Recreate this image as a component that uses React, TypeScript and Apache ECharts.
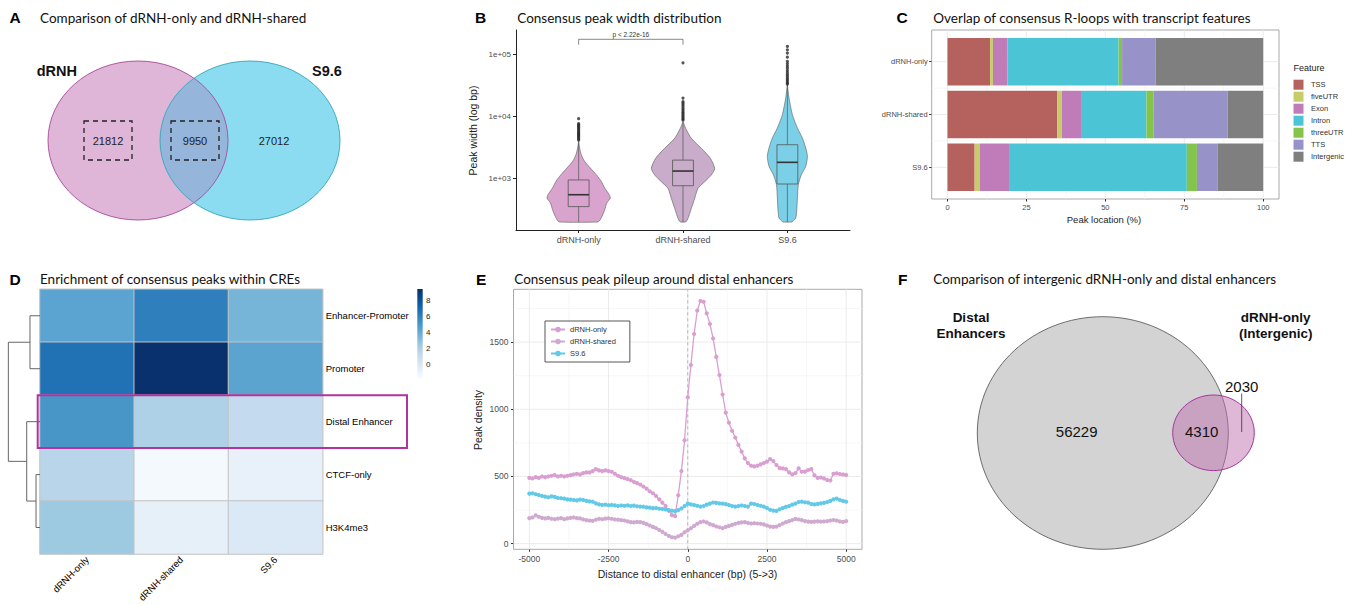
import React, { useEffect, useRef } from "react";
import * as echarts from "echarts";

// ---------------- Panel A : Venn of peak sets ----------------
const vennASets = ["dRNH", "S9.6"];
const vennACounts = [21812, 9950, 27012]; // dRNH only, shared, S9.6 only

// ---------------- Panel B : peak width distribution ----------------
const widthGroups = ["dRNH-only", "dRNH-shared", "S9.6"];
const widthTicks = [1000, 10000, 100000];
// violin outline: [peak width (bp), half width (category units)]
const violinDrnhOnly = [[4010, 0], [3126, 0.01], [2438, 0.026], [1905, 0.057], [1489, 0.112], [1161, 0.169], [908, 0.217], [708, 0.25], [552, 0.294], [489, 0.303], [406, 0.27], [316, 0.25], [247, 0.224], [210, 0.2], [200, 0.18]];
const violinDrnhShared = [[8318, 0], [6486, 0.026], [4477, 0.08], [3090, 0.176], [2133, 0.262], [1469, 0.303], [1148, 0.271], [895, 0.208], [700, 0.144], [482, 0.112], [333, 0.08], [230, 0.048], [203, 0.03], [200, 0.02]];
const violinS96 = [[32900, 0], [20000, 0.016], [10800, 0.048], [6577, 0.096], [4529, 0.144], [3126, 0.176], [2296, 0.192], [1585, 0.176], [1161, 0.134], [802, 0.105], [489, 0.096], [298, 0.089], [232, 0.08], [205, 0.05], [200, 0.04]];
// box stats: [lower whisker, Q1, median, Q3, upper whisker]
const boxDrnhOnly = [200, 355, 552, 955, 4010];
const boxDrnhShared = [200, 771, 1330, 1995, 8318];
const boxS96 = [200, 822, 1837, 3532, 32900];
const outDrnhOnly = [9300, 7700, 7400, 7100, 6800, 6500, 6200, 5900, 5600, 5400, 5200, 5000, 4800, 4600, 4400, 4200];
const outDrnhShared = [74000, 20000, 17500, 16500, 15500, 14500, 13500, 12800, 12000, 11400, 10800, 10200, 9700, 9200, 8800];
const outS96 = [136000, 120000, 106000, 91000, 78000, 72000, 66000, 61000, 56000, 52000, 48000, 45000, 42000, 39500, 37000, 35000, 33500];
const pBracket = [1, 2, 177000, 145000];
const pLabel = "p < 2.22e-16";

// ---------------- Panel C : transcript feature overlap ----------------
const overlapGroups = ["dRNH-only", "dRNH-shared", "S9.6"];
const features = ["TSS", "fiveUTR", "Exon", "Intron", "threeUTR", "TTS", "Intergenic"];
const featureColors = ["#b5625f", "#c7cc6b", "#bf7cb8", "#4bc4d5", "#85c44b", "#9793c8", "#7f7f7f"];
const pctDrnhOnly = [13.5, 0.9, 4.6, 35.2, 1.1, 10.6, 34.1];
const pctDrnhShared = [34.7, 1.5, 6.1, 20.7, 2.2, 23.5, 11.3];
const pctS96 = [8.6, 1.6, 9.3, 56.3, 3.2, 6.5, 14.5];
const pctTicks = [0, 25, 50, 75, 100];

// ---------------- Panel D : enrichment heatmap ----------------
const creRows = ["Enhancer-Promoter", "Promoter", "Distal Enhancer", "CTCF-only", "H3K4me3"];
const creCols = ["dRNH-only", "dRNH-shared", "S9.6"];
const enrichDrnhOnly = [4.45, 6.7, 5.1, 1.6, 2.5];
const enrichDrnhShared = [6.1, 9.4, 1.95, -1.5, -0.7];
const enrichS96 = [3.6, 4.4, 1.2, -0.8, -0.1];
const colorbarTicks = [0, 2, 4, 6, 8];
// dendrogram merges: [childA, childB, height]; leaves 0..4, internal nodes 5..
const creDendro = [[0, 1, 0.73], [3, 4, 0.29], [2, 6, 0.97], [5, 7, 2.31]];

// ---------------- Panel E : pileup around distal enhancers ----------------
const pileupBins = Array.from({ length: 101 }, (_, i) => -5000 + 100 * i);
const pileupDrnhOnly = [
  490, 485, 495, 490, 500, 495, 500, 505, 510, 500,
  505, 500, 505, 510, 515, 520, 515, 525, 530, 530,
  540, 555, 545, 540, 545, 540, 535, 520, 505, 495,
  488, 480, 472, 460, 450, 440, 425, 410, 390, 375,
  355, 330, 305, 280, 245, 212, 205, 360, 540, 770,
  1090, 1330, 1560, 1735, 1806, 1800, 1714, 1635, 1527, 1390,
  1255, 1110, 975, 900, 840, 790, 735, 685, 635, 600,
  580, 575, 580, 590, 600, 610, 630, 615, 585, 562,
  560, 555, 530, 516, 525, 560, 535, 536, 548, 555,
  508, 490, 492, 485, 474, 470, 520, 523, 518, 515,
  511];
const pileupDrnhShared = [
  190, 195, 210, 200, 192, 188, 192, 185, 182, 186,
  190, 182, 188, 192, 195, 190, 188, 180, 175, 172,
  170, 178, 185, 182, 186, 189, 185, 180, 178, 175,
  172, 166, 160, 158, 162, 160, 155, 145, 135, 125,
  115, 102, 88, 72, 58, 48, 45, 55, 65, 85,
  100, 115, 132, 148, 160, 165, 158, 145, 138, 128,
  122, 115, 125, 132, 140, 148, 155, 158, 160, 155,
  150, 152, 150, 148, 144, 135, 127, 125, 127, 138,
  150, 160, 168, 176, 184, 180, 175, 168, 164, 162,
  164, 166, 164, 165, 168, 172, 176, 172, 165, 162,
  168];
const pileupS96 = [
  372, 375, 368, 362, 355, 350, 345, 352, 348, 340,
  338, 335, 330, 328, 325, 322, 328, 325, 318, 315,
  312, 300, 292, 288, 290, 286, 288, 285, 280, 284,
  282, 285, 280, 283, 278, 276, 275, 270, 268, 264,
  265, 260, 258, 255, 250, 245, 242, 250, 262, 280,
  298, 292, 288, 282, 276, 280, 290, 298, 306, 304,
  300, 298, 294, 288, 280, 276, 280, 284, 280, 276,
  298, 295, 288, 282, 276, 265, 252, 246, 244, 256,
  265, 274, 280, 290, 298, 310, 312, 308, 305, 295,
  292, 296, 300, 304, 310, 318, 330, 335, 325, 318,
  312];
const pileupXTicks = [-5000, -2500, 0, 2500, 5000];
const pileupXMinor = [-3750, -1250, 1250, 3750];
const pileupYTicks = [0, 500, 1000, 1500];
const pileupYMinor = [250, 750, 1250, 1750];

// ---------------- Panel F : Venn distal enhancers ----------------
const vennFSets = ["Distal\nEnhancers", "dRNH-only\n(Intergenic)"];
const vennFCounts = [56229, 4310, 2030];

// =====================================================================
const AX = "Liberation Sans, Arial, sans-serif";
const TF = "Lato, Noto Sans, sans-serif";
const BLUES = ["#f7fbff", "#deebf7", "#c6dbef", "#9ecae1", "#6baed6", "#4292c6", "#2171b5", "#08519c", "#08306b"];
const ENR_MIN = -1.66, ENR_MAX = 9.46;

let shapesReady = false;
function lensPath(cx1: number, cx2: number, cy: number, rx: number, ry: number) {
  const mx = (cx1 + cx2) / 2;
  const t = (mx - cx1) / rx;
  const dy = ry * Math.sqrt(1 - t * t);
  const y1 = cy - dy, y2 = cy + dy;
  return `M${mx} ${y1} A${rx} ${ry} 0 0 1 ${mx} ${y2} A${rx} ${ry} 0 0 1 ${mx} ${y1} Z`;
}
function ensureShapes() {
  if (shapesReady) return;
  shapesReady = true;
  echarts.graphic.registerShape("lensA", echarts.graphic.extendPath(lensPath(138, 250, 140.5, 90, 79.5), {}) as any);
}

function T(text: string, x: number, y: number, font: string, o: any = {}) {
  return {
    type: "text", x, y, rotation: o.rotation || 0, z: o.z ?? 20, silent: true,
    style: { text, font, fill: o.fill || "#111", align: o.align || "left", verticalAlign: o.va || "middle", lineHeight: o.lineHeight },
  };
}

function buildOption() {
  const violins = [violinDrnhOnly, violinDrnhShared, violinS96];
  const boxes = [boxDrnhOnly, boxDrnhShared, boxS96];
  const outs = [outDrnhOnly, outDrnhShared, outS96];
  const violinColors = ["#d8a3cd", "#c9abca", "#7bd0e8"];

  const gB = { left: 516, top: 30, width: 334, height: 200 };
  const gC = { left: 931.7, top: 30, width: 347.3, height: 169, show: true, borderColor: "#a9a9a9", borderWidth: 1 };
  const gD = { left: 40, top: 289.3, width: 282.7, height: 264.7 };
  const gE = { left: 513.5, top: 289.3, width: 348.5, height: 260, show: true, borderColor: "#a9a9a9", borderWidth: 1 };
  const XE: [number, number] = [-5500, 5500];
  const YE: [number, number] = [-42, 1893];
  const XC: [number, number] = [-5, 105];
  const YC: [number, number] = [0.4, 3.6];

  const gridRender = (xr: [number, number], yr: [number, number]) => (p: any, api: any) => {
    const o = api.value(0), v = api.value(1), k = api.value(2);
    const a = o === 0 ? api.coord([v, yr[0]]) : api.coord([xr[0], v]);
    const b = o === 0 ? api.coord([v, yr[1]]) : api.coord([xr[1], v]);
    return {
      type: "line", shape: { x1: a[0], y1: a[1], x2: b[0], y2: b[1] },
      style: { stroke: k === 2 ? "#9c9c9c" : k === 0 ? "#ebebeb" : "#f3f3f3", lineWidth: k === 0 ? 1 : 0.7, lineDash: k === 2 ? [3, 3] : null },
    };
  };

  const gridDataE = [
    ...pileupXMinor.map((v) => [0, v, 1]), ...pileupYMinor.map((v) => [1, v, 1]),
    ...pileupXTicks.map((v) => [0, v, 0]), ...pileupYTicks.map((v) => [1, v, 0]),
    [0, 0, 2],
  ];
  const gridDataC = [
    ...[12.5, 37.5, 62.5, 87.5].map((v) => [0, v, 1]), ...[1.5, 2.5].map((v) => [1, v, 1]),
    ...pctTicks.map((v) => [0, v, 0]), ...[1, 2, 3].map((v) => [1, v, 0]),
  ];

  const barData: number[][] = [];
  [pctDrnhOnly, pctDrnhShared, pctS96].forEach((row, g) => {
    let acc = 0;
    row.forEach((v, f) => { barData.push([acc, acc + v, g + 1, f]); acc += v; });
  });

  const heatData: number[][] = [];
  [enrichDrnhOnly, enrichDrnhShared, enrichS96].forEach((col, c) => col.forEach((v, r) => heatData.push([c, r, v])));

  const outlierData: number[][] = [];
  outs.forEach((arr, g) => arr.forEach((v) => outlierData.push([g + 1, v])));

  const axText = { fontFamily: AX };
  const plain = (v: number) => String(v);

  const xAxis: any[] = [
    { gridIndex: 0, type: "value", min: 0.4, max: 3.6, axisLine: { show: true, onZero: false, lineStyle: { color: "#222", width: 1 } },
      axisTick: { customValues: [1, 2, 3], length: 3, lineStyle: { color: "#222" } },
      axisLabel: { customValues: [1, 2, 3], formatter: (v: number) => widthGroups[Math.round(v) - 1], color: "#4d4d4d", fontSize: 9, margin: 5, ...axText },
      splitLine: { show: false } },
    { gridIndex: 1, type: "value", min: XC[0], max: XC[1], axisLine: { show: false, onZero: false },
      axisTick: { customValues: pctTicks, length: 2.5, lineStyle: { color: "#333" } },
      axisLabel: { customValues: pctTicks, formatter: plain, color: "#4d4d4d", fontSize: 7.5, margin: 4, ...axText }, splitLine: { show: false } },
    { gridIndex: 2, type: "category", data: creCols, axisLine: { show: false }, axisTick: { show: false },
      axisLabel: { rotate: 45, color: "#000", fontSize: 9.5, margin: 4, ...axText }, splitLine: { show: false } },
    { gridIndex: 3, type: "value", min: XE[0], max: XE[1], axisLine: { show: false, onZero: false },
      axisTick: { customValues: pileupXTicks, length: 2.5, lineStyle: { color: "#333" } },
      axisLabel: { customValues: pileupXTicks, formatter: plain, color: "#4d4d4d", fontSize: 8.5, margin: 5, ...axText }, splitLine: { show: false } },
  ];
  const yAxis: any[] = [
    { gridIndex: 0, type: "log", logBase: 10, min: 149, max: 250000, axisLine: { show: true, onZero: false, lineStyle: { color: "#222", width: 1 } },
      axisTick: { customValues: widthTicks, length: 3, lineStyle: { color: "#222" } },
      axisLabel: { customValues: widthTicks, formatter: (v: number) => "1e+" + String(Math.round(Math.log10(v))).padStart(2, "0"), color: "#4d4d4d", fontSize: 8, margin: 5, ...axText },
      splitLine: { show: false }, minorTick: { show: false } },
    { gridIndex: 1, type: "value", min: YC[0], max: YC[1], inverse: true, axisLine: { show: false, onZero: false },
      axisTick: { customValues: [1, 2, 3], length: 2.5, lineStyle: { color: "#333" } },
      axisLabel: { customValues: [1, 2, 3], formatter: (v: number) => overlapGroups[Math.round(v) - 1], color: "#4d4d4d", fontSize: 7.5, margin: 4, ...axText },
      splitLine: { show: false } },
    { gridIndex: 2, type: "category", data: creRows, inverse: true, position: "right", axisLine: { show: false }, axisTick: { show: false },
      axisLabel: { color: "#000", fontSize: 9.5, margin: 3, ...axText }, splitLine: { show: false } },
    { gridIndex: 3, type: "value", min: YE[0], max: YE[1], axisLine: { show: false, onZero: false },
      axisTick: { customValues: pileupYTicks, length: 2.5, lineStyle: { color: "#333" } },
      axisLabel: { customValues: pileupYTicks, formatter: plain, color: "#4d4d4d", fontSize: 8.5, margin: 5, ...axText }, splitLine: { show: false } },
  ];

  const pileColors = ["#d89fd0", "#cfaacf", "#62c9e6"];
  const pileNames = ["dRNH-only", "dRNH-shared", "S9.6"];
  const pileSeries = [pileupDrnhOnly, pileupDrnhShared, pileupS96].map((arr, i) => ({
    type: "line", name: pileNames[i], xAxisIndex: 3, yAxisIndex: 3, z: 3 + i,
    data: pileupBins.map((b, j) => [b, arr[j]]),
    symbol: "circle", symbolSize: 4.2, showSymbol: true,
    lineStyle: { color: pileColors[i], width: 1.3 }, itemStyle: { color: pileColors[i] },
    emphasis: { disabled: true },
  }));

  const series: any[] = [
    { type: "custom", name: "violins", xAxisIndex: 0, yAxisIndex: 0, z: 2,
      data: widthGroups.map((_, i) => [i + 1, boxes[i][2], i]),
      renderItem: (p: any, api: any) => {
        const g = api.value(2);
        const prof = violins[g];
        const xc = g + 1;
        const right = prof.map(([v, hw]) => api.coord([xc + hw, v]));
        const left = prof.slice().reverse().map(([v, hw]) => api.coord([xc - hw, v]));
        return { type: "polygon", shape: { points: right.concat(left), smooth: 0.25 }, style: { fill: violinColors[g], stroke: "#5a5a5a", lineWidth: 0.6 } };
      } },
    { type: "custom", name: "boxes", xAxisIndex: 0, yAxisIndex: 0, z: 3,
      data: widthGroups.map((_, i) => [i + 1, boxes[i][2], i]),
      renderItem: (p: any, api: any) => {
        const g = api.value(2); const s = boxes[g]; const xc = g + 1; const hw = 0.1;
        const tl = api.coord([xc - hw, s[3]]), br = api.coord([xc + hw, s[1]]);
        const m1 = api.coord([xc - hw, s[2]]), m2 = api.coord([xc + hw, s[2]]);
        const wt = api.coord([xc, s[4]]), q3 = api.coord([xc, s[3]]), q1 = api.coord([xc, s[1]]), wb = api.coord([xc, s[0]]);
        const st = { stroke: "#555", lineWidth: 0.7 };
        return { type: "group", children: [
          { type: "line", shape: { x1: wt[0], y1: wt[1], x2: q3[0], y2: q3[1] }, style: st },
          { type: "line", shape: { x1: q1[0], y1: q1[1], x2: wb[0], y2: wb[1] }, style: st },
          { type: "rect", shape: { x: tl[0], y: tl[1], width: br[0] - tl[0], height: br[1] - tl[1] }, style: { fill: "transparent", stroke: "#555", lineWidth: 0.8 } },
          { type: "line", shape: { x1: m1[0], y1: m1[1], x2: m2[0], y2: m2[1] }, style: { stroke: "#333", lineWidth: 1.6 } },
        ] };
      } },
    { type: "scatter", name: "outliers", xAxisIndex: 0, yAxisIndex: 0, z: 4, data: outlierData, symbolSize: 3.2,
      itemStyle: { color: "#2b2b2b" }, emphasis: { disabled: true } },
    { type: "custom", name: "pvalue", xAxisIndex: 0, yAxisIndex: 0, z: 4, data: [pBracket],
      renderItem: (p: any, api: any) => {
        const a = api.coord([api.value(0), api.value(2)]), b = api.coord([api.value(1), api.value(2)]);
        const a2 = api.coord([api.value(0), api.value(3)]), b2 = api.coord([api.value(1), api.value(3)]);
        return { type: "group", children: [
          { type: "polyline", shape: { points: [a2, a, b, b2] }, style: { stroke: "#555", lineWidth: 0.7, fill: "none" } },
          { type: "text", x: (a[0] + b[0]) / 2, y: a[1] - 4.5, style: { text: pLabel, font: `6.5px ${AX}`, fill: "#333", align: "center", verticalAlign: "middle" } },
        ] };
      } },
    { type: "custom", name: "gridC", xAxisIndex: 1, yAxisIndex: 1, z: 1, data: gridDataC, renderItem: gridRender(XC, YC), silent: true },
    { type: "custom", name: "bars", xAxisIndex: 1, yAxisIndex: 1, z: 2, data: barData, encode: { x: [0, 1], y: 2 },
      renderItem: (p: any, api: any) => {
        const s = api.coord([api.value(0), api.value(2) - 0.45]);
        const e = api.coord([api.value(1), api.value(2) + 0.45]);
        return { type: "rect", shape: { x: s[0], y: Math.min(s[1], e[1]), width: e[0] - s[0], height: Math.abs(e[1] - s[1]) },
          style: { fill: featureColors[api.value(3)] } };
      } },
    { type: "heatmap", name: "enrichment", xAxisIndex: 2, yAxisIndex: 2, data: heatData,
      itemStyle: { borderColor: "#c2c2c2", borderWidth: 1 }, emphasis: { disabled: true } },
    { type: "custom", name: "gridE", xAxisIndex: 3, yAxisIndex: 3, z: 1, data: gridDataE, renderItem: gridRender(XE, YE), silent: true },
    ...pileSeries,
  ];

  const el: any[] = [];
  const LF = `bold 15.5px ${AX}`;
  const TT = `13.5px ${TF}`;
  [["A", 9.5, 17.5], ["B", 475, 17.5], ["C", 896.5, 17.5], ["D", 9.5, 279], ["E", 476, 279], ["F", 898, 279]].forEach(([l, x, y]) =>
    el.push(T(l as string, x as number, y as number, LF, { fill: "#000" })));
  el.push(T("Comparison of dRNH-only and dRNH-shared", 40, 17.5, TT));
  el.push(T("Consensus peak width distribution", 517.3, 17.5, TT));
  el.push(T("Overlap of consensus R-loops with transcript features", 933.3, 17.5, TT));
  el.push(T("Enrichment of consensus peaks within CREs", 40, 279, TT));
  el.push(T("Consensus peak pileup around distal enhancers", 514.3, 279, TT));
  el.push(T("Comparison of intergenic dRNH-only and distal enhancers", 933.3, 279, TT));

  // Panel A venn
  el.push({ type: "ellipse", z: 5, silent: true, shape: { cx: 138, cy: 140.5, rx: 90, ry: 79.5 }, style: { fill: "#dfb6d8", stroke: "none" } });
  el.push({ type: "ellipse", z: 5, silent: true, shape: { cx: 250, cy: 140.5, rx: 90, ry: 79.5 }, style: { fill: "#8cdcf1", stroke: "none" } });
  el.push({ type: "lensA", z: 6, silent: true, x: 0, y: 0, style: { fill: "#95b5da" } });
  el.push({ type: "ellipse", z: 7, silent: true, shape: { cx: 138, cy: 140.5, rx: 90, ry: 79.5 }, style: { fill: "none", stroke: "#a84a9c", lineWidth: 0.9 } });
  el.push({ type: "ellipse", z: 7, silent: true, shape: { cx: 250, cy: 140.5, rx: 90, ry: 79.5 }, style: { fill: "none", stroke: "#36a6ba", lineWidth: 0.9 } });
  el.push({ type: "rect", z: 8, silent: true, shape: { x: 84, y: 121, width: 48, height: 39 }, style: { fill: "none", stroke: "#222", lineWidth: 1.3, lineDash: [5, 4] } });
  el.push({ type: "rect", z: 8, silent: true, shape: { x: 171, y: 121, width: 48, height: 39 }, style: { fill: "none", stroke: "#222", lineWidth: 1.3, lineDash: [5, 4] } });
  el.push(T(String(vennACounts[0]), 108, 141, `11px ${AX}`, { align: "center", fill: "#222" }));
  el.push(T(String(vennACounts[1]), 195, 141, `11px ${AX}`, { align: "center", fill: "#222" }));
  el.push(T(String(vennACounts[2]), 274, 141, `11px ${AX}`, { align: "center", fill: "#222" }));
  el.push(T(vennASets[0], 36.7, 71, `bold 14.5px ${AX}`, { fill: "#111" }));
  el.push(T(vennASets[1], 312, 71, `bold 14.5px ${AX}`, { fill: "#111" }));

  el.push(T("Peak width (log bp)", 473.3, 130.5, `10.5px ${AX}`, { rotation: Math.PI / 2, align: "center", fill: "#222" }));

  el.push(T("Peak location (%)", 1104, 219.5, `9.5px ${AX}`, { align: "center", fill: "#222" }));
  el.push(T("Feature", 1293.5, 68.3, `9px ${AX}`, { fill: "#222" }));
  features.forEach((f, i) => {
    const cy = 84.7 + 12 * i;
    el.push({ type: "rect", z: 10, silent: true, shape: { x: 1293.5, y: cy - 5, width: 10, height: 10 }, style: { fill: featureColors[i] } });
    el.push(T(f, 1311, cy, `7.5px ${AX}`, { fill: "#333" }));
  });

  const rowH = gD.height / creRows.length;
  const rc = (i: number) => gD.top + rowH * (i + 0.5);
  const DR = 40, DS = 13.7;
  const nodes: { x: number; y: number }[] = creRows.map((_, i) => ({ x: DR, y: rc(i) }));
  creDendro.forEach(([a, b, h]) => {
    const na = nodes[a], nb = nodes[b];
    const x = DR - h * DS;
    el.push({ type: "polyline", z: 10, silent: true, shape: { points: [[na.x, na.y], [x, na.y], [x, nb.y], [nb.x, nb.y]] }, style: { stroke: "#555", lineWidth: 0.9, fill: "none" } });
    nodes.push({ x, y: (na.y + nb.y) / 2 });
  });
  el.push({ type: "rect", z: 30, silent: true, shape: { x: 37.7, y: gD.top + rowH * 2, width: 369.3, height: rowH }, style: { fill: "none", stroke: "#b3329f", lineWidth: 2 } });
  const cbTop = 289, cbH = 89;
  el.push({ type: "rect", z: 10, silent: true, shape: { x: 417.3, y: cbTop, width: 5.4, height: cbH },
    style: { fill: { type: "linear", x: 0, y: 0, x2: 0, y2: 1, colorStops: BLUES.slice().reverse().map((c, i) => ({ offset: i / (BLUES.length - 1), color: c })) } } });
  colorbarTicks.forEach((v) => {
    const y = cbTop + ((ENR_MAX - v) / (ENR_MAX - ENR_MIN)) * cbH;
    el.push(T(String(v), 426, y, `8px ${AX}`, { fill: "#222" }));
  });

  el.push(T("Peak density", 478.3, 420, `10.5px ${AX}`, { rotation: Math.PI / 2, align: "center", fill: "#222" }));
  el.push(T("Distance to distal enhancer (bp) (5->3)", 687.5, 573.5, `10.5px ${AX}`, { align: "center", fill: "#222" }));

  el.push({ type: "ellipse", z: 5, silent: true, shape: { cx: 1102.8, cy: 433, rx: 125.5, ry: 116.3 }, style: { fill: "#d3d3d3", stroke: "#4d4d4d", lineWidth: 0.8 } });
  el.push({ type: "ellipse", z: 6, silent: true, shape: { cx: 1213.5, cy: 432.8, rx: 40.8, ry: 37.8 }, style: { fill: "rgba(192,112,176,0.5)", stroke: "#a3379a", lineWidth: 1 } });
  el.push(T(String(vennFCounts[0]), 1076.7, 431.7, `15px ${AX}`, { align: "center", fill: "#111" }));
  el.push(T(String(vennFCounts[1]), 1201.7, 431.7, `15px ${AX}`, { align: "center", fill: "#111" }));
  el.push(T(String(vennFCounts[2]), 1241.7, 386.7, `15px ${AX}`, { align: "center", fill: "#111" }));
  el.push({ type: "line", z: 8, silent: true, shape: { x1: 1241.7, y1: 393.5, x2: 1241.7, y2: 432 }, style: { stroke: "#333", lineWidth: 0.8 } });
  el.push(T(vennFSets[0], 971, 325.5, `bold 13.5px ${AX}`, { align: "center", fill: "#111", lineHeight: 15.6 }));
  el.push(T(vennFSets[1], 1275.7, 325.5, `bold 13.5px ${AX}`, { align: "center", fill: "#111", lineHeight: 15.6 }));

  return {
    animation: false,
    backgroundColor: "#fff",
    textStyle: { fontFamily: AX },
    grid: [gB, gC, gD, gE],
    xAxis, yAxis,
    visualMap: [{ type: "continuous", show: false, min: ENR_MIN, max: ENR_MAX, seriesIndex: 6, dimension: 2, inRange: { color: BLUES } }],
    legend: {
      data: pileNames, orient: "vertical", left: 545, top: 321, padding: [4.5, 14, 4.5, 5], itemGap: 4, itemWidth: 14, itemHeight: 7,
      borderColor: "#444", borderWidth: 0.9, backgroundColor: "#fff", textStyle: { fontSize: 7.5, color: "#333", fontFamily: AX }, selectedMode: false,
    },
    series,
    graphic: { elements: el },
  };
}

export default function App() {
  const ref = useRef<HTMLDivElement>(null);
  useEffect(() => {
    if (!ref.current) return;
    ensureShapes();
    const chart = echarts.init(ref.current, undefined, { renderer: "svg" });
    chart.setOption(buildOption() as any);
    return () => chart.dispose();
  }, []);
  return <div ref={ref} style={{ position: "absolute", left: 0, top: 0, width: 1352, height: 605, background: "#fff" }} />;
}
